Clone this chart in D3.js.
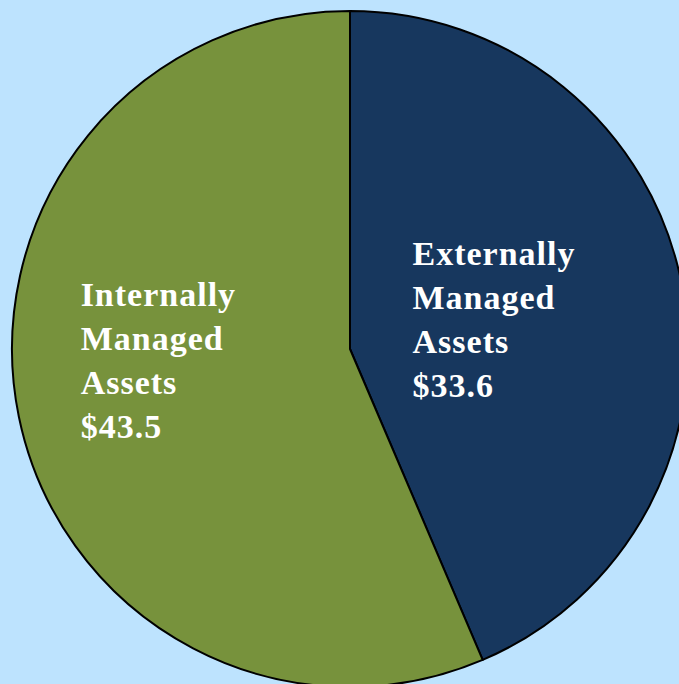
<!DOCTYPE html>
<html>
<head>
<meta charset="utf-8">
<script src="https://cdn.jsdelivr.net/npm/d3@7"></script>
<style>
  html, body { margin: 0; padding: 0; background: #bde3fe; }
  svg { display: block; }
  .label { font-family: 'Liberation Serif', 'DejaVu Serif', serif; font-weight: bold; fill: #fff; }
</style>
</head>
<body>
<script>
const categories = ['Externally Managed Assets', 'Internally Managed Assets']
const labelLines = [['Externally', 'Managed', 'Assets'], ['Internally', 'Managed', 'Assets']]
const values = [33.6, 43.5]
const colors = ['#17375e', '#77923c']

const width = 679
const height = 684
const cx = 350
const cy = 349
const radius = 338

const svg = d3.select('body').append('svg')
	.attr('width', width)
	.attr('height', height)

const g = svg.append('g')
	.attr('transform', `translate(${cx}, ${cy})`)

const pie = d3.pie().sort(null).value(d => d.value)
const arc = d3.arc().innerRadius(0).outerRadius(radius)

const data = categories.map((c, i) => ({ name: c, value: values[i], lines: labelLines[i], color: colors[i] }))
const arcs = pie(data)

g.selectAll('path.slice')
	.data(arcs)
	.enter().append('path')
	.attr('class', 'slice')
	.attr('d', arc)
	.attr('fill', d => d.data.color)
	.attr('stroke', '#000')
	.attr('stroke-width', 2)
	.attr('stroke-linejoin', 'round')

// label placement: radius along the slice mid angle, text block centred there
const labelR = [147, 192]
const angleNudge = [0, 0.14]
const lineH = 44

arcs.forEach((d, i) => {
	const a = (d.startAngle + d.endAngle) / 2 + angleNudge[i]
	const px = labelR[i] * Math.sin(a)
	const py = -labelR[i] * Math.cos(a)
	const lines = d.data.lines.concat(['$' + d.data.value.toFixed(1)])
	const t = g.append('text')
		.attr('class', 'label')
		.style('font-size', '34px')
		.style('letter-spacing', '1px')
	lines.forEach((l, j) => {
		t.append('tspan')
			.attr('x', 0)
			.attr('y', j * lineH)
			.text(l)
	})
	const bb = t.node().getBBox()
	t.attr('transform', `translate(${px - bb.width / 2}, ${py - bb.y - bb.height / 2})`)
})
</script>
</body>
</html>
